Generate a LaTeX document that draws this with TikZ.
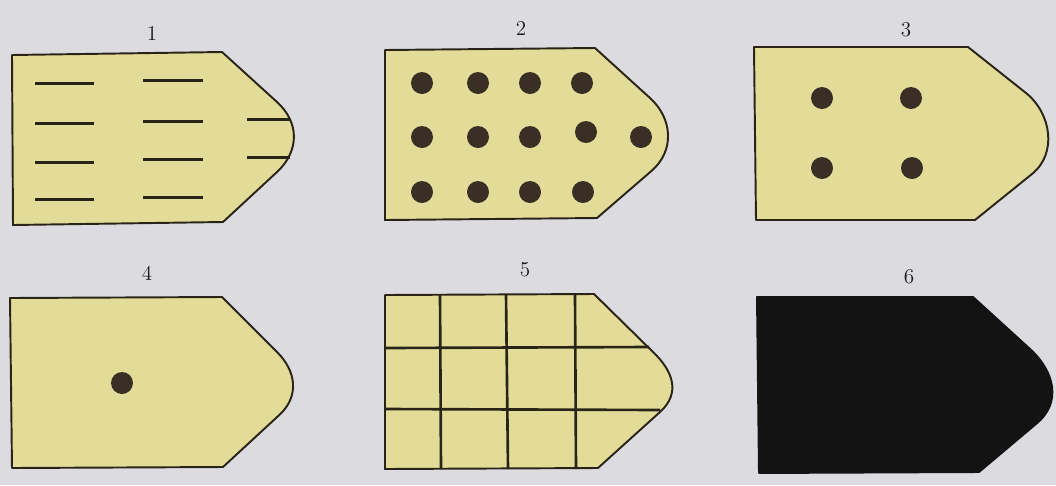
\documentclass[tikz,border=0pt]{standalone}
\definecolor{bgc}{HTML}{DCDCE0}
\definecolor{tagyellow}{HTML}{E3DC98}
\definecolor{outline}{HTML}{2A2418}
\definecolor{dotbrown}{HTML}{3A2F24}
\definecolor{blackfill}{HTML}{131313}
\tikzset{
  tagshape/.style={fill=tagyellow, draw=outline, line width=1.1pt, line join=round},
  darkshape/.style={fill=blackfill, draw=blackfill, line width=1.1pt, line join=round},
  tagedge/.style={draw=outline, line width=1.1pt, line join=round},
  bar/.style={draw=outline, line width=1.7pt},
  gridline/.style={draw=outline, line width=1.5pt},
  hole/.style={fill=dotbrown},
  lbl/.style={font=\fontsize{12}{14}\selectfont, inner sep=0pt, text=black!90}
}
\begin{document}
\begin{tikzpicture}[x=0.02cm, y=-0.02cm]
\fill[bgc] (0,0) rectangle (1056,485);
\useasboundingbox (0,0) rectangle (1056,485);

% labels
\node[lbl] (l1) at (152,33) {1};
\node[lbl] (l2) at (521,28) {2};
\node[lbl] (l3) at (906,30) {3};
\node[lbl] (l4) at (147,273) {4};
\node[lbl] (l5) at (525,270) {5};
\node[lbl] (l6) at (909,277) {6};

% shape 1
\path[tagshape] (12,55) -- (222,52) -- (277,102) .. controls (299.6,122.5) and (299.5,151) .. (277,172) -- (223,222) -- (13,225) -- cycle;
\foreach \y in {83,123,162,199} \draw[bar] (35,\y) -- (94,\y);
\foreach \y in {80,121,159,197} \draw[bar] (143,\y) -- (203,\y);
\draw[bar] (247,119) -- (290,119);
\draw[bar] (247,157) -- (290,157);

% shape 2
\path[tagshape] (385,50) -- (595,48) -- (650,98) .. controls (672.8,118.6) and (674.8,151) .. (651.4,171) -- (597,218) -- (385,220) -- cycle;
\foreach \x/\y in {422/83,478/83,530/83,582/83,
                   422/137,478/137,530/137,586/132,641/137,
                   422/192,478/192,530/192,583/192}
  \fill[hole] (\x,\y) circle[radius=0.22cm];

% shape 3
\path[tagshape] (754,47) -- (968,47) -- (1026,93) .. controls (1051.4,113.5) and (1057.4,153.5) .. (1032,174) -- (975,220) -- (756,220) -- cycle;
\foreach \x/\y in {822/98,911/98,822/168,912/168}
  \fill[hole] (\x,\y) circle[radius=0.22cm];

% shape 4
\path[tagshape] (10,298) -- (222,297) -- (277,352) .. controls (296.2,370.9) and (299.5,396.1) .. (279.8,414.5) -- (223,467) -- (12,468) -- cycle;
\fill[hole] (122,383) circle[radius=0.22cm];

% shape 5
\fill[tagyellow] (385,295) -- (594,294) -- (653,352) .. controls (673,371) and (681,393) .. (660,412) -- (598,468) -- (385,469) -- cycle;
\draw[gridline] (440,294) -- (441,469);
\draw[gridline] (506,294) -- (508,469);
\draw[gridline] (575,294) -- (576,469);
\draw[gridline] (385,348) -- (649,347);
\draw[gridline] (385,409) -- (660,410);
\draw[tagedge] (385,295) -- (594,294) -- (653,352) .. controls (673,371) and (681,393) .. (660,412) -- (598,468) -- (385,469) -- cycle;

% shape 6
\path[darkshape] (757,297) -- (973,297) -- (1029.6,348.6) .. controls (1054.6,371.2) and (1062.2,402.6) .. (1036.2,423.8) -- (979,472) -- (759,473) -- cycle;
\end{tikzpicture}
\end{document}
